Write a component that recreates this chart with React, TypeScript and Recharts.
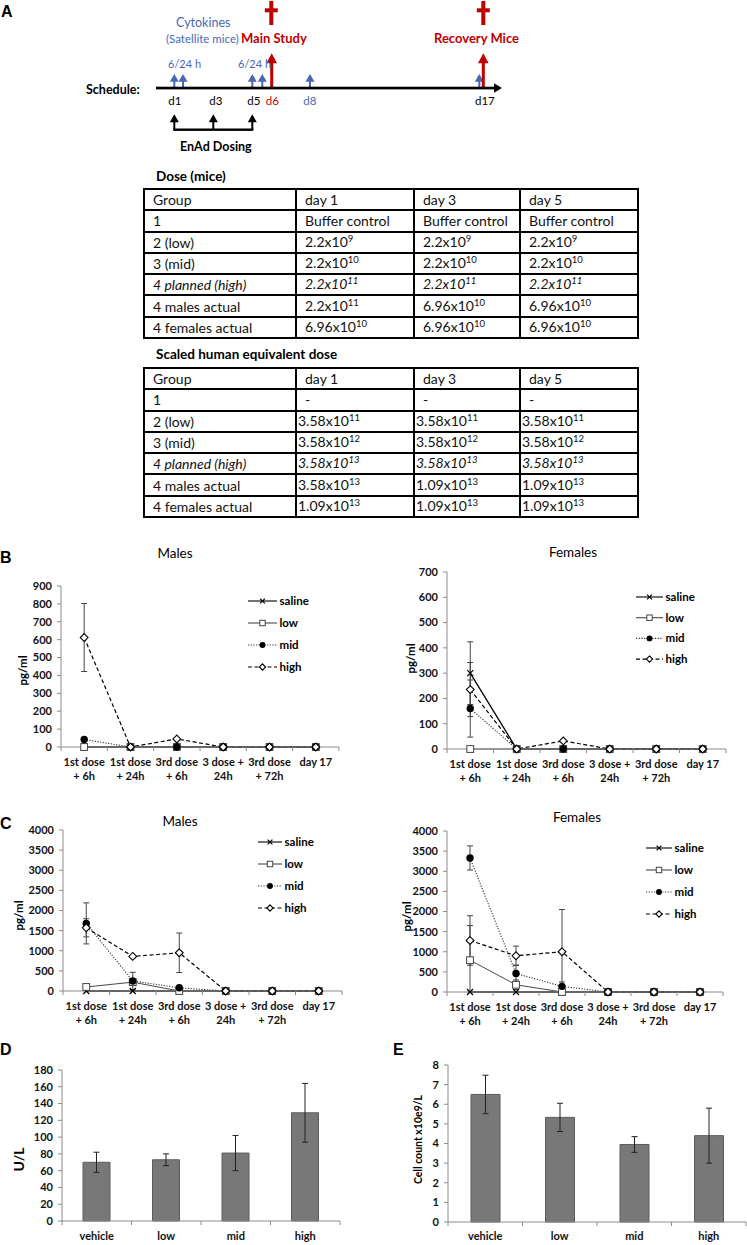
import React from 'react';
import { LineChart, Line, XAxis, YAxis, ErrorBar, Legend, BarChart, Bar } from 'recharts';

const FONT = 'Lato, "Noto Sans", Arial, sans-serif';
const LETTER_FONT = '"Liberation Sans", Arial, sans-serif';
const AXIS = '#8c8c8c';
const BLUE = '#4a67b5';
const RED = '#c00000';

// ---------------- Panel A tables ----------------
const tableCols = ['Group', 'day 1', 'day 3', 'day 5'];
const doseRows = [
  ['1', 'Buffer control', 'Buffer control', 'Buffer control'],
  ['2 (low)', '2.2x10^9', '2.2x10^9', '2.2x10^9'],
  ['3 (mid)', '2.2x10^10', '2.2x10^10', '2.2x10^10'],
  ['4  planned (high)', '2.2x10^11', '2.2x10^11', '2.2x10^11'],
  ['4  males actual', '2.2x10^11', '6.96x10^10', '6.96x10^10'],
  ['4  females actual', '6.96x10^10', '6.96x10^10', '6.96x10^10'],
];
const hedRows = [
  ['1', '-', '-', '-'],
  ['2 (low)', '3.58x10^11', '3.58x10^11', '3.58x10^11'],
  ['3 (mid)', '3.58x10^12', '3.58x10^12', '3.58x10^12'],
  ['4  planned (high)', '3.58x10^13', '3.58x10^13', '3.58x10^13'],
  ['4  males actual', '3.58x10^13', '1.09x10^13', '1.09x10^13'],
  ['4  females actual', '1.09x10^13', '1.09x10^13', '1.09x10^13'],
];

// ---------------- Time-course data (panels B, C) ----------------
type Err = number | [number, number];
type Series = { name: string; values: number[]; err: Err[] };

const timeTop = ['1st dose', '1st dose', '3rd dose', '3 dose +', '3rd dose', 'day 17'];
const timeBottom = ['+ 6h', '+ 24h', '+ 6h', '24h', '+ 72h', ''];
const groupNames = ['saline', 'low', 'mid', 'high'];
const noErr: Err[] = [0, 0, 0, 0, 0, 0];

// B males
const bMaleSaline = [0, 0, 0, 0, 0, 0];
const bMaleLow = [0, 0, 0, 0, 0, 0];
const bMaleMid = [42, 0, 0, 0, 0, 0];
const bMaleHigh = [612, 0, 45, 0, 0, 0];
const bMaleHighErr: Err[] = [190, 0, 0, 0, 0, 0];

// B females
const bFemaleSaline = [300, 0, 0, 0, 0, 0];
const bFemaleSalineErr: Err[] = [124, 0, 0, 0, 0, 0];
const bFemaleLow = [0, 0, 0, 0, 0, 0];
const bFemaleMid = [160, 0, 0, 0, 0, 0];
const bFemaleMidErr: Err[] = [113, 0, 0, 0, 0, 0];
const bFemaleHigh = [235, 0, 32, 0, 0, 0];
const bFemaleHighErr: Err[] = [107, 0, 0, 0, 0, 0];

// C males
const cMaleSaline = [0, 0, 0, 0, 0, 0];
const cMaleLow = [100, 220, 0, 0, 0, 0];
const cMaleMid = [1680, 250, 80, 0, 0, 0];
const cMaleMidErr: Err[] = [510, 215, 0, 0, 0, 0];
const cMaleHigh = [1570, 860, 950, 0, 0, 0];
const cMaleHighErr: Err[] = [225, 0, 490, 0, 0, 0];

// C females
const cFemaleSaline = [0, 0, 0, 0, 0, 0];
const cFemaleLow = [790, 180, 0, 0, 0, 0];
const cFemaleLowErr: Err[] = [[790, 860], 120, 0, 0, 0, 0];
const cFemaleMid = [3330, 460, 140, 0, 0, 0];
const cFemaleMidErr: Err[] = [300, 210, 110, 0, 0, 0];
const cFemaleHigh = [1280, 900, 1000, 0, 0, 0];
const cFemaleHighErr: Err[] = [615, 240, [1000, 1050], 0, 0, 0];

// ---------------- Bar data (panels D, E) ----------------
const barCats = ['vehicle', 'low', 'mid', 'high'];
const dValues = [70, 73, 81, 129];
const dErr = [12, 7, 21, 35];
const eValues = [6.5, 5.33, 3.95, 4.4];
const eErr = [0.98, 0.72, 0.4, 1.4];

const bMaleSeries: Series[] = [
  { name: 'saline', values: bMaleSaline, err: noErr },
  { name: 'low', values: bMaleLow, err: noErr },
  { name: 'mid', values: bMaleMid, err: noErr },
  { name: 'high', values: bMaleHigh, err: bMaleHighErr },
];
const bFemaleSeries: Series[] = [
  { name: 'saline', values: bFemaleSaline, err: bFemaleSalineErr },
  { name: 'low', values: bFemaleLow, err: noErr },
  { name: 'mid', values: bFemaleMid, err: bFemaleMidErr },
  { name: 'high', values: bFemaleHigh, err: bFemaleHighErr },
];
const cMaleSeries: Series[] = [
  { name: 'saline', values: cMaleSaline, err: noErr },
  { name: 'low', values: cMaleLow, err: noErr },
  { name: 'mid', values: cMaleMid, err: cMaleMidErr },
  { name: 'high', values: cMaleHigh, err: cMaleHighErr },
];
const cFemaleSeries: Series[] = [
  { name: 'saline', values: cFemaleSaline, err: noErr },
  { name: 'low', values: cFemaleLow, err: cFemaleLowErr },
  { name: 'mid', values: cFemaleMid, err: cFemaleMidErr },
  { name: 'high', values: cFemaleHigh, err: cFemaleHighErr },
];

const seriesStyle: Record<string, { stroke: string; width: number; dash?: string; marker: string }> = {
  saline: { stroke: '#000', width: 1.3, marker: 'x' },
  low: { stroke: '#4a4a4a', width: 1, marker: 'square' },
  mid: { stroke: '#333', width: 1.1, dash: '1.2 1.5', marker: 'circle' },
  high: { stroke: '#000', width: 1.2, dash: '4 2.5', marker: 'diamond' },
};

function Marker({ kind, cx, cy, s = 1 }: { kind: string; cx: number; cy: number; s?: number }) {
  if (cx == null || cy == null) return null;
  if (kind === 'x') {
    const h = 3 * s;
    return (
      <g stroke="#000" strokeWidth={1.2}>
        <line x1={cx - h} y1={cy - h} x2={cx + h} y2={cy + h} />
        <line x1={cx - h} y1={cy + h} x2={cx + h} y2={cy - h} />
      </g>
    );
  }
  if (kind === 'square') {
    const h = 3.4 * s;
    return <rect x={cx - h} y={cy - h} width={2 * h} height={2 * h} fill="#fff" stroke="#444" strokeWidth={1} />;
  }
  if (kind === 'circle') {
    return <circle cx={cx} cy={cy} r={3.7 * s} fill="#000" />;
  }
  const h = 3.9 * s;
  return (
    <polygon
      points={`${cx},${cy - h} ${cx + h},${cy} ${cx},${cy + h} ${cx - h},${cy}`}
      fill="#fff"
      stroke="#000"
      strokeWidth={1.1}
    />
  );
}

const yLabel = (text: string, off: number, shift: number, size: number) => (p: any) => {
  const vb = p.viewBox || {};
  const cx = (vb.x || 0) + off;
  const cy = (vb.y || 0) + (vb.height || 0) / 2 + shift;
  return (
    <text
      x={cx}
      y={cy}
      transform={`rotate(-90 ${cx} ${cy})`}
      textAnchor="middle"
      dominantBaseline="central"
      fontSize={size}
      fontWeight={700}
      fill="#000"
      fontFamily={FONT}
    >
      {text}
    </text>
  );
};

function TimeTick(p: any) {
  const { x, y, payload } = p;
  const v = payload.value as number;
  if (Number.isInteger(v)) return <line x1={x} y1={y} x2={x} y2={y + 4} stroke={AXIS} />;
  const i = Math.floor(v);
  return (
    <text x={x} y={y} textAnchor="middle" fontSize={11} fontWeight={700} fill="#111" fontFamily={FONT}>
      <tspan x={x} dy={18.5}>{timeTop[i]}</tspan>
      <tspan x={x} dy={14.5}>{timeBottom[i]}</tspan>
    </text>
  );
}

function BarTick(p: any) {
  const { x, y, payload, dyText } = p;
  const v = payload.value as number;
  if (Number.isInteger(v)) return <line x1={x} y1={y} x2={x} y2={y + 4} stroke={AXIS} />;
  const i = Math.floor(v);
  return (
    <text x={x} y={y + dyText} textAnchor="middle" fontSize={11} fontWeight={700} fill="#111" fontFamily={FONT}>
      {barCats[i]}
    </text>
  );
}

function LegendBox({ lineLen, gap }: { lineLen: number; gap: number }) {
  return (
    <svg width={95} height={gap * 3 + 14} style={{ display: 'block', overflow: 'visible' }}>
      {groupNames.map((n, i) => {
        const st = seriesStyle[n];
        const y = 6 + i * gap;
        return (
          <g key={n}>
            <line x1={0} y1={y} x2={lineLen} y2={y} stroke={st.stroke} strokeWidth={1.1} strokeDasharray={st.dash} />
            <Marker kind={st.marker} cx={lineLen / 2} cy={y} s={0.8} />
            <text x={lineLen + 2.5} y={y + 4} fontSize={11.5} fontWeight={700} fill="#000" fontFamily={FONT}>
              {n}
            </text>
          </g>
        );
      })}
    </svg>
  );
}

type TimeProps = {
  left: number; top: number; width: number; height: number;
  plotTop: number; yAxisWidth: number; rightMargin: number; xAxisHeight: number;
  yMax: number; yStep: number; series: Series[];
  legendLeft: number; legendTop: number; lineLen: number; gap: number;
  labelOff: number; labelShift: number;
};

function TimeChart(props: TimeProps) {
  const { left, top, width, height, plotTop, yAxisWidth, rightMargin, xAxisHeight, yMax, yStep, series } = props;
  const data = timeTop.map((_, i) => {
    const row: Record<string, any> = { x: i + 0.5 };
    series.forEach((s) => {
      row[s.name] = s.values[i];
      row[s.name + 'Err'] = s.err[i];
    });
    return row;
  });
  const yTicks: number[] = [];
  for (let v = 0; v <= yMax; v += yStep) yTicks.push(v);
  const xTicks: number[] = [];
  for (let k = 0; k <= timeTop.length * 2; k++) xTicks.push(k / 2);
  return (
    <div style={{ position: 'absolute', left, top }}>
      <LineChart width={width} height={height} data={data} margin={{ top: plotTop, right: rightMargin, bottom: 0, left: 0 }}>
        <XAxis
          dataKey="x"
          type="number"
          domain={[0, timeTop.length]}
          ticks={xTicks}
          interval={0}
          height={xAxisHeight}
          tickLine={false}
          tickSize={0}
          tickMargin={0}
          axisLine={{ stroke: AXIS }}
          tick={(p: any) => <TimeTick {...p} />}
        />
        <YAxis
          type="number"
          domain={[0, yMax]}
          ticks={yTicks}
          interval={0}
          width={yAxisWidth}
          tickSize={4}
          tickMargin={5}
          axisLine={{ stroke: AXIS }}
          tickLine={{ stroke: AXIS }}
          tick={{ fontSize: 11, fontWeight: 700, fill: '#111', fontFamily: FONT }}
          label={{ content: yLabel('pg/ml', props.labelOff, props.labelShift, 11.5) }}
        />
        {series.map((s) => {
          const st = seriesStyle[s.name];
          return (
            <Line
              key={s.name}
              type="linear"
              dataKey={s.name}
              stroke={st.stroke}
              strokeWidth={st.width}
              strokeDasharray={st.dash}
              isAnimationActive={false}
              activeDot={false}
              dot={(p: any) => <Marker key={`${s.name}-${p.index}`} kind={st.marker} cx={p.cx} cy={p.cy} />}
            >
              <ErrorBar dataKey={s.name + 'Err'} width={3} stroke="#444" strokeWidth={1} direction="y" isAnimationActive={false} />
            </Line>
          );
        })}
        <Legend
          layout="vertical"
          align="center"
          verticalAlign="middle"
          wrapperStyle={{ left: props.legendLeft, top: props.legendTop, width: 95 }}
          content={() => <LegendBox lineLen={props.lineLen} gap={props.gap} />}
        />
      </LineChart>
    </div>
  );
}

type BarProps = {
  left: number; top: number; width: number; height: number;
  plotTop: number; yAxisWidth: number; rightMargin: number; xAxisHeight: number;
  values: number[]; errs: number[]; yMax: number; yStep: number;
  label: string; labelSize: number; labelOff: number; labelShift: number; barSize: number; tickDy: number;
};

function BarPanel(props: BarProps) {
  const { left, top, width, height, plotTop, yAxisWidth, rightMargin, xAxisHeight, values, errs, yMax, yStep } = props;
  const data = barCats.map((c, i) => ({ x: i + 0.5, name: c, v: values[i], e: errs[i] }));
  const yTicks: number[] = [];
  for (let k = 0; k * yStep <= yMax + 1e-9; k++) yTicks.push(k * yStep);
  const xTicks: number[] = [];
  for (let k = 0; k <= barCats.length * 2; k++) xTicks.push(k / 2);
  return (
    <div style={{ position: 'absolute', left, top }}>
      <BarChart width={width} height={height} data={data} margin={{ top: plotTop, right: rightMargin, bottom: 0, left: 0 }}>
        <XAxis
          dataKey="x"
          type="number"
          domain={[0, barCats.length]}
          ticks={xTicks}
          interval={0}
          height={xAxisHeight}
          tickLine={false}
          tickSize={0}
          tickMargin={0}
          axisLine={{ stroke: AXIS }}
          tick={(p: any) => <BarTick {...p} dyText={props.tickDy} />}
        />
        <YAxis
          type="number"
          domain={[0, yMax]}
          ticks={yTicks}
          interval={0}
          width={yAxisWidth}
          tickSize={4}
          tickMargin={5}
          axisLine={{ stroke: AXIS }}
          tickLine={{ stroke: AXIS }}
          tick={{ fontSize: 11, fontWeight: 700, fill: '#111', fontFamily: FONT }}
          label={{ content: yLabel(props.label, props.labelOff, props.labelShift, props.labelSize) }}
        />
        <Bar dataKey="v" fill="#787878" stroke="#5c5c5c" strokeWidth={1} barSize={props.barSize} isAnimationActive={false}>
          <ErrorBar dataKey="e" width={3} stroke="#222" strokeWidth={1} direction="y" isAnimationActive={false} />
        </Bar>
      </BarChart>
    </div>
  );
}

function cellContent(c: string) {
  const [base, exp] = c.split('^');
  if (exp === undefined) return c;
  return (
    <>
      {base}
      <span style={{ fontSize: 9.5, position: 'relative', top: -5 }}>{exp}</span>
    </>
  );
}

function DoseTable({ top, rows, tight }: { top: number; rows: string[][]; tight: boolean }) {
  const colW = [152, 118, 106, 118];
  return (
    <table
      style={{
        position: 'absolute',
        left: 143,
        top,
        borderCollapse: 'collapse',
        tableLayout: 'fixed',
        width: 494,
        fontFamily: FONT,
        fontSize: 14,
        color: '#111',
      }}
    >
      <colgroup>
        {colW.map((w, i) => (
          <col key={i} style={{ width: w }} />
        ))}
      </colgroup>
      <tbody>
        {[tableCols, ...rows].map((r, ri) => (
          <tr key={ri} style={{ height: 21.3 }}>
            {r.map((c, ci) => (
              <td
                key={ci}
                style={{
                  border: '2px solid #000',
                  padding: `0 0 0 ${tight && ci > 0 && ri > 0 && c.includes('^') ? 1 : 8}px`,
                  fontStyle: ri === 4 ? 'italic' : 'normal',
                  lineHeight: '17px',
                  whiteSpace: 'nowrap',
                  overflow: 'hidden',
                }}
              >
                {cellContent(c)}
              </td>
            ))}
          </tr>
        ))}
      </tbody>
    </table>
  );
}

function BlueArrow({ x }: { x: number }) {
  return (
    <g fill={BLUE}>
      <rect x={x - 1} y={80} width={2} height={8} />
      <polygon points={`${x - 4.5},81.7 ${x + 4.5},81.7 ${x},74`} />
    </g>
  );
}
function RedArrow({ x }: { x: number }) {
  return (
    <g fill={RED}>
      <rect x={x - 1.5} y={62} width={3} height={26} />
      <polygon points={`${x - 5.3},63.3 ${x + 5.3},63.3 ${x},53.3`} />
    </g>
  );
}
function Cross({ x }: { x: number }) {
  return (
    <g fill={RED}>
      <rect x={x - 2} y={1} width={4} height={24} />
      <rect x={x - 6.5} y={8.3} width={13} height={4} />
    </g>
  );
}
function DoseArrow({ x }: { x: number }) {
  return (
    <g fill="#000">
      <rect x={x - 1} y={121} width={2} height={9} />
      <polygon points={`${x - 4.5},122.3 ${x + 4.5},122.3 ${x},114.3`} />
    </g>
  );
}

function Overlay() {
  return (
    <svg width={747} height={1245} style={{ position: 'absolute', left: 0, top: 0 }} fontFamily={FONT}>
      {/* Panel letters */}
      <g fontFamily={LETTER_FONT} fontWeight={700} fontSize={16} fill="#000">
        <text x={1} y={17}>A</text>
        <text x={0} y={563}>B</text>
        <text x={0} y={829}>C</text>
        <text x={0} y={1055}>D</text>
        <text x={393} y={1055}>E</text>
      </g>
      {/* Schedule diagram */}
      <Cross x={271.3} />
      <Cross x={483.3} />
      {[174.3, 183, 252.3, 262.3, 310, 479.3].map((x) => (
        <BlueArrow key={x} x={x} />
      ))}
      <RedArrow x={271.7} />
      <RedArrow x={483.3} />
      <text x={176} y={27} fill={BLUE} fontSize={12.5}>Cytokines</text>
      <text x={166} y={43} fill={BLUE} fontSize={11.5}>(Satellite mice)</text>
      <text x={241} y={43} fill={RED} fontSize={13} fontWeight={700}>Main Study</text>
      <text x={434} y={43} fill={RED} fontSize={13} fontWeight={700}>Recovery Mice</text>
      <text x={168} y={68} fill={BLUE} fontSize={11}>6/24 h</text>
      <text x={238} y={68} fill={BLUE} fontSize={11}>6/24 h</text>
      <rect x={156} y={86.7} width={339} height={2.7} fill="#000" />
      <polygon points="494,83.3 502,88 494,92.7" fill="#000" />
      <text x={86} y={93.5} fontSize={12.5} fontWeight={700} fill="#000">Schedule:</text>
      <g fontSize={11.5}>
        <text x={168.3} y={104.5} fill="#000">d1</text>
        <text x={209.3} y={104.5} fill="#000">d3</text>
        <text x={247.3} y={104.5} fill="#000">d5</text>
        <text x={265.7} y={104.5} fill={RED}>d6</text>
        <text x={303.3} y={104.5} fill={BLUE}>d8</text>
        <text x={475} y={104.5} fill="#000">d17</text>
      </g>
      {[174.3, 213.3, 252.3].map((x) => (
        <DoseArrow key={x} x={x} />
      ))}
      <rect x={173.3} y={128.5} width={80} height={2.4} fill="#000" />
      <text x={180} y={150.5} fontSize={12.5} fontWeight={700} fill="#000">EnAd Dosing</text>
      {/* Table headings */}
      <text x={156} y={181} fontSize={13.5} fontWeight={700} fill="#000">Dose (mice)</text>
      <text x={156} y={359} fontSize={13.5} fontWeight={700} fill="#000">Scaled human equivalent dose</text>
      {/* Chart titles */}
      <g fontSize={13.5} fill="#000" textAnchor="middle">
        <text x={175} y={558}>Males</text>
        <text x={573} y={557}>Females</text>
        <text x={180} y={826}>Males</text>
        <text x={577} y={822}>Females</text>
      </g>
    </svg>
  );
}

export default function App() {
  return (
    <div style={{ position: 'absolute', left: 0, top: 0, width: 747, height: 1245, background: '#fff', fontFamily: FONT, overflow: 'hidden' }}>
      <Overlay />
      <DoseTable top={188} rows={doseRows} tight={false} />
      <DoseTable top={367} rows={hedRows} tight={true} />
      <TimeChart
        left={0} top={570} width={360} height={220}
        plotTop={16} yAxisWidth={61} rightMargin={21} xAxisHeight={43}
        yMax={900} yStep={100} series={bMaleSeries}
        legendLeft={248} legendTop={25} lineLen={29} gap={22}
        labelOff={22} labelShift={4}
      />
      <TimeChart
        left={370} top={556} width={370} height={240}
        plotTop={16} yAxisWidth={77} rightMargin={14} xAxisHeight={47}
        yMax={700} yStep={100} series={bFemaleSeries}
        legendLeft={266} legendTop={35} lineLen={27} gap={20.7}
        labelOff={40.5} labelShift={-2}
      />
      <TimeChart
        left={0} top={812} width={360} height={225}
        plotTop={18} yAxisWidth={63} rightMargin={18} xAxisHeight={46}
        yMax={4000} yStep={500} series={cMaleSeries}
        legendLeft={258} legendTop={24} lineLen={24} gap={22}
        labelOff={18} labelShift={5}
      />
      <TimeChart
        left={370} top={812} width={370} height={225}
        plotTop={19} yAxisWidth={77} rightMargin={17} xAxisHeight={45}
        yMax={4000} yStep={500} series={cFemaleSeries}
        legendLeft={276} legendTop={30} lineLen={26} gap={22}
        labelOff={36} labelShift={5}
      />
      <BarPanel
        left={0} top={1055} width={360} height={190}
        plotTop={15} yAxisWidth={62} rightMargin={20} xAxisHeight={24}
        values={dValues} errs={dErr} yMax={180} yStep={20}
        label="U/L" labelSize={14} labelOff={18} labelShift={14} barSize={27} tickDy={19}
      />
      <BarPanel
        left={370} top={1050} width={377} height={195}
        plotTop={15} yAxisWidth={78} rightMargin={1} xAxisHeight={23}
        values={eValues} errs={eErr} yMax={8} yStep={1}
        label="Cell count x10e9/L" labelSize={10.5} labelOff={47.5} labelShift={-4} barSize={29} tickDy={18}
      />
    </div>
  );
}
